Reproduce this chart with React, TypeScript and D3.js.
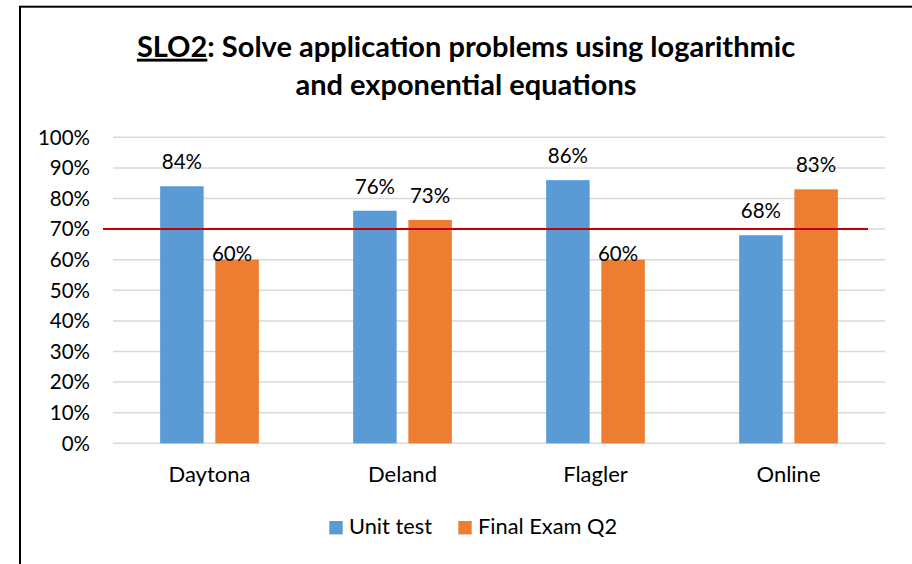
import React from "react";
import * as d3 from "d3";

const categories = ["Daytona", "Deland", "Flagler", "Online"];
const seriesNames = ["Unit test", "Final Exam Q2"];
const unitTest = [84, 76, 86, 68];
const finalExam = [60, 73, 60, 83];
const yTicks = [0, 10, 20, 30, 40, 50, 60, 70, 80, 90, 100];
const targetValue = 70;
const colors = ["#5B9BD5", "#ED7D31"];

const W = 912;
const H = 564;
const FONT = "Lato, 'Noto Sans', sans-serif";

export default function App() {
  const plotLeft = 113;
  const plotRight = 885;
  const plotTop = 137.3;
  const plotBottom = 443.3;

  const x = d3.scaleBand<string>().domain(categories).range([plotLeft, plotRight]).paddingInner(0).paddingOuter(0);
  const y = d3.scaleLinear().domain([0, 100]).range([plotBottom, plotTop]);
  const barW = 43.5;
  const gap = 11.7;

  const series = [unitTest, finalExam];

  return (
    <svg
      width={W}
      height={H}
      style={{ display: "block", background: "#fff", position: "absolute", left: 0, top: 0 }}
      fontFamily={FONT}
    >
      <rect x={20} y={6.7} width={W + 10} height={H + 10} fill="#fff" stroke="#000" strokeWidth={2} />
      <text x={466} y={56.7} textAnchor="middle" fontSize={29} fontWeight={700} fill="#000">
        <tspan textDecoration="underline">SLO2</tspan>
        <tspan>: Solve application problems using logarithmic</tspan>
      </text>
      <text x={466} y={95} textAnchor="middle" fontSize={29} fontWeight={700} fill="#000">
        and exponential equations
      </text>
      {yTicks.map((t) => (
        <g key={t}>
          <line x1={plotLeft} x2={plotRight} y1={y(t)} y2={y(t)} stroke="#D9D9D9" strokeWidth={1.5} />
          <text x={90} y={y(t)} dy="0.36em" textAnchor="end" fontSize={20.5} fill="#000">
            {t}%
          </text>
        </g>
      ))}
      {categories.map((c, i) => {
        const cx = (x(c) as number) + x.bandwidth() / 2;
        return (
          <g key={c}>
            {series.map((s, si) => {
              const bx = si === 0 ? cx - gap / 2 - barW : cx + gap / 2;
              const v = s[i];
              const low = si === 1 && v < 65;
              return (
                <g key={si}>
                  <rect x={bx} y={y(v)} width={barW} height={plotBottom - y(v)} fill={colors[si]} />
                  <text
                    x={bx + barW / 2 + (low ? -5 : 0)}
                    y={y(v) + (low ? 1 : -17)}
                    textAnchor="middle"
                    fontSize={20.5}
                    fill="#000"
                  >
                    {v}%
                  </text>
                </g>
              );
            })}
            <text x={cx} y={482} textAnchor="middle" fontSize={22} fill="#000">
              {c}
            </text>
          </g>
        );
      })}
      <line x1={103} x2={868} y1={y(targetValue)} y2={y(targetValue)} stroke="#C00000" strokeWidth={2} />
      <g>
        <rect x={329.3} y={521} width={13.4} height={13.4} fill={colors[0]} />
        <text x={349} y={534} fontSize={21.8} fill="#000">{seriesNames[0]}</text>
        <rect x={458.3} y={521} width={13.4} height={13.4} fill={colors[1]} />
        <text x={478} y={534} fontSize={21.8} fill="#000">{seriesNames[1]}</text>
      </g>
    </svg>
  );
}
